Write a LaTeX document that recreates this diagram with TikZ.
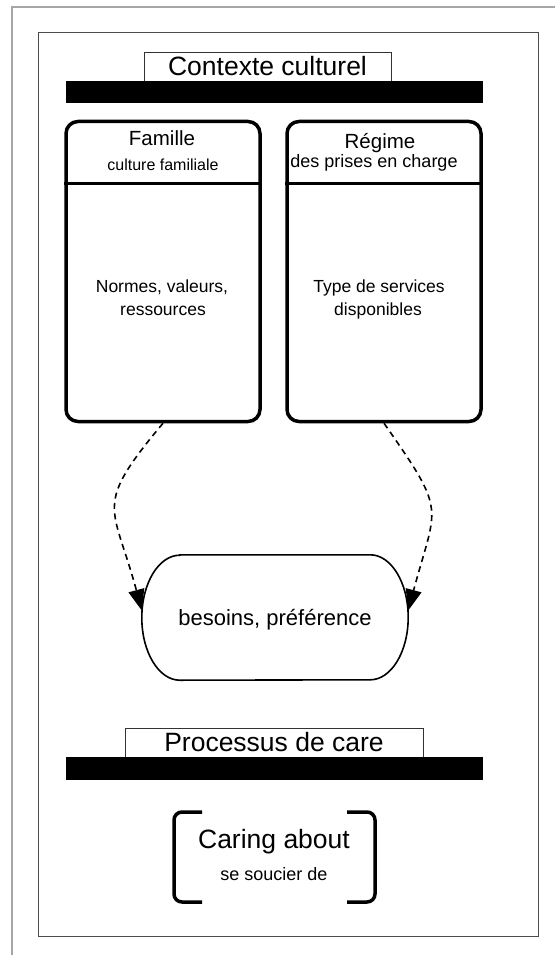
\documentclass[tikz,border=0pt]{standalone}
\usepackage{fontspec}
\setmainfont{Liberation Sans}
\usetikzlibrary{arrows.meta}

\begin{document}
\begin{tikzpicture}[x=1pt, y=-1pt,
	boite/.style={draw, line width=3.5, rounded corners=12, minimum width=194, minimum height=300},
	entete/.style={draw=black!80, line width=0.8, fill=white, minimum width=#1, minimum height=29, inner sep=0, font=\fontsize{26.5}{30}\selectfont},
	texte/.style={anchor=base, inner sep=0, font=\fontsize{#1}{#1}\selectfont},
	fleche/.style={dash pattern=on 6pt off 4.5pt, line width=1.6, -{Triangle[length=21pt, width=16pt]}, looseness=1.5}]
	\useasboundingbox (0,0) rectangle (555,955);
	\draw[black!35, line width=1.5] (555,7) -- (12,7) -- (12,955);
	\draw[black!70, line width=1] (38,33) rectangle (538,936);
	\node[entete=247] (contexte) at (267.5,66.5) {Contexte culturel};
	\fill (66,81) rectangle (483,103);
	\node[boite] (famille) at (163,271.5) {};
	\node[boite] (regime) at (384,271.5) {};
	\draw[line width=3.5] ([yshift=-63.5pt]famille.north west) -- ([yshift=-63.5pt]famille.north east);
	\draw[line width=3.5] ([yshift=-63.5pt]regime.north west) -- ([yshift=-63.5pt]regime.north east);
	\node[texte=20.5] (nomfamille) at (162,146) {Famille};
	\node[texte=16] (culture) at (163,170) {culture familiale};
	\node[texte=20.5] (nomregime) at (380,149) {Régime};
	\node[texte=18] (prises) at (374,167) {des prises en charge};
	\node[texte=17.5] (normes) at (162,292) {Normes, valeurs,};
	\node[texte=17.5] (ressources) at (163,315) {ressources};
	\node[texte=17.5] (type) at (379,292) {Type de services};
	\node[texte=17.5] (disponibles) at (378,315) {disponibles};
	\node[minimum width=266, minimum height=125, inner sep=0, text depth=0pt, font=\fontsize{22}{22}\selectfont] (besoins) at (275,617.5) {besoins, préférence};
	\draw[line width=1.6] ([xshift=38pt]besoins.north west) -- ([xshift=-38pt]besoins.north east)
		arc[start angle=90, end angle=-90, x radius=38pt, y radius=62.5pt] -- ([xshift=38pt]besoins.south west)
		arc[start angle=270, end angle=90, x radius=38pt, y radius=62.5pt] -- cycle;
	\draw[fleche] (famille.south) to[out=-130, in=105] ([yshift=7pt]besoins.west);
	\draw[fleche] (regime.south) to[out=-55, in=75] ([yshift=7pt]besoins.east);
	\node[entete=298] (processus) at (274,742.5) {Processus de care};
	\fill (66,757) rectangle (483,780);
	\draw[line width=3.5, rounded corners=8] (202,812) -- (174,812) -- (174,902) -- (202,902);
	\draw[line width=3.5, rounded corners=8] (347,812) -- (375,812) -- (375,902) -- (347,902);
	\node[texte=26.5] (caring) at (274,848) {Caring about};
	\node[texte=18] (soucier) at (274,880) {se soucier de};
\end{tikzpicture}
\end{document}
